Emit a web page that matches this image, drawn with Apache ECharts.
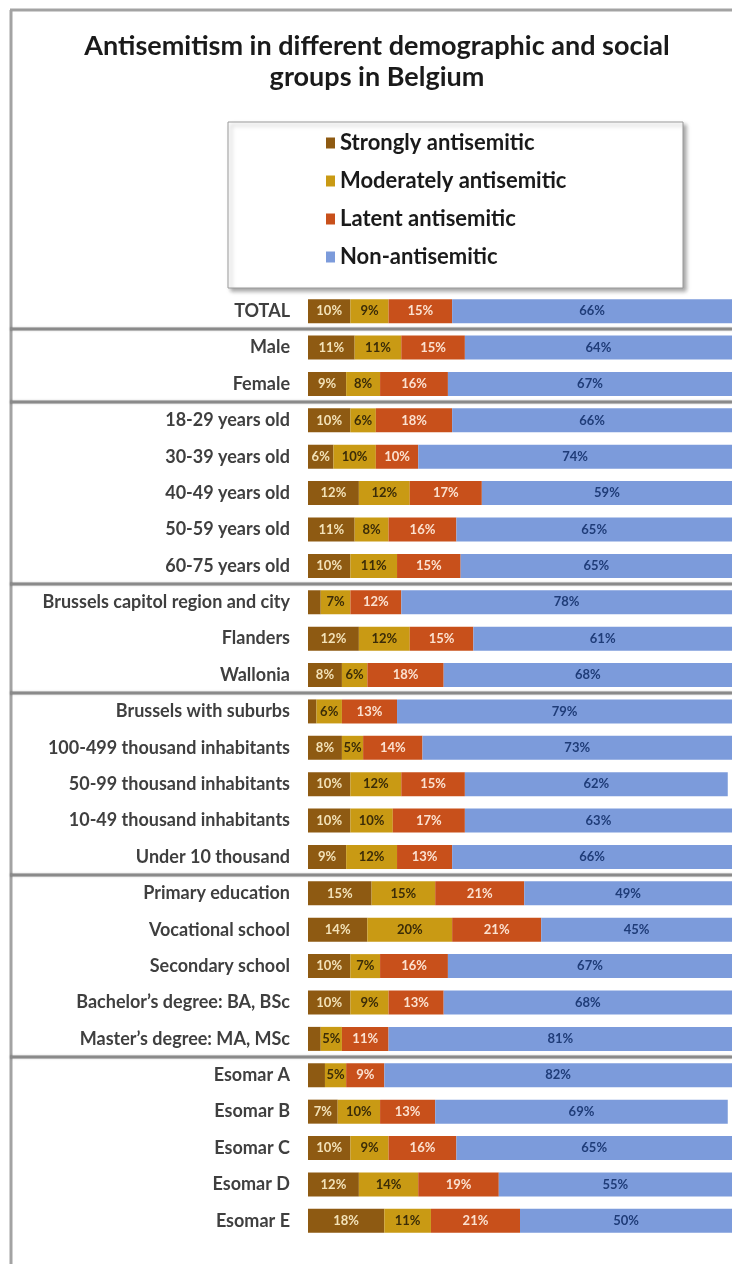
<!DOCTYPE html>
<html>
<head>
<meta charset="utf-8">
<script src="https://cdn.jsdelivr.net/npm/echarts@6/dist/echarts.min.js"></script>
<style>
  html, body { margin: 0; padding: 0; background: #fff; }
  #chart { width: 732px; height: 1264px; }
</style>
</head>
<body>
<div id="chart"></div>
<script>
var categories = [
  'TOTAL', 'Male', 'Female',
  '18-29 years old', '30-39 years old', '40-49 years old', '50-59 years old', '60-75 years old',
  'Brussels capitol region and city', 'Flanders', 'Wallonia',
  'Brussels with suburbs', '100-499 thousand inhabitants', '50-99 thousand inhabitants',
  '10-49 thousand inhabitants', 'Under 10 thousand',
  'Primary education', 'Vocational school', 'Secondary school',
  'Bachelor\u2019s degree: BA, BSc', 'Master\u2019s degree: MA, MSc',
  'Esomar A', 'Esomar B', 'Esomar C', 'Esomar D', 'Esomar E'
]
var strongly = [10, 11, 9, 10, 6, 12, 11, 10, 3, 12, 8, 2, 8, 10, 10, 9, 15, 14, 10, 10, 3, 4, 7, 10, 12, 18]
var moderately = [9, 11, 8, 6, 10, 12, 8, 11, 7, 12, 6, 6, 5, 12, 10, 12, 15, 20, 7, 9, 5, 5, 10, 9, 14, 11]
var latent = [15, 15, 16, 18, 10, 17, 16, 15, 12, 15, 18, 13, 14, 15, 17, 13, 21, 21, 16, 13, 11, 9, 13, 16, 19, 21]
var nonAnti = [66, 64, 67, 66, 74, 59, 65, 65, 78, 61, 68, 79, 73, 62, 63, 66, 49, 45, 67, 68, 81, 82, 69, 65, 55, 50]
// a separator line is drawn below these rows
var groupEnds = [0, 2, 7, 10, 15, 20]

var chart = echarts.init(document.getElementById('chart'))

function seg (name, data, color, labelColor) {
  return {
    name: name,
    type: 'bar',
    stack: 'all',
    data: data,
    barWidth: 24,
    itemStyle: { color: color },
    label: {
      show: true,
      position: 'inside',
      color: labelColor,
      fontFamily: 'Lato',
      fontWeight: 'bold',
      fontSize: 13,
      formatter: function (p) {
        return p.value < 5 ? '' : p.value + '%'
      }
    }
  }
}

var option = {
  animation: false,
  title: {
    text: 'Antisemitism in different demographic and social\ngroups in Belgium',
    left: 377,
    top: 31,
    padding: 0,
    textAlign: 'center',
    textStyle: {
      fontFamily: 'Lato',
      fontWeight: 'bold',
      fontSize: 27,
      lineHeight: 31,
      color: '#1a1a1a'
    }
  },
  legend: {
    orient: 'vertical',
    left: 326,
    top: 132,
    padding: 0,
    itemWidth: 9,
    itemHeight: 11,
    itemGap: 16,
    icon: 'rect',
    textStyle: {
      fontFamily: 'Lato',
      fontWeight: 'bold',
      fontSize: 22,
      lineHeight: 22,
      color: '#1a1a1a'
    },
    data: ['Strongly antisemitic', 'Moderately antisemitic', 'Latent antisemitic', 'Non-antisemitic']
  },
  grid: {
    left: 308,
    top: 293,
    width: 427,
    height: 946,
    containLabel: false
  },
  xAxis: {
    type: 'value',
    min: 0,
    max: 100,
    show: false
  },
  yAxis: {
    type: 'category',
    inverse: true,
    data: categories,
    axisLine: { show: false },
    axisTick: { show: false },
    axisLabel: {
      margin: 18,
      fontFamily: 'Lato',
      fontWeight: 'bold',
      fontSize: 18,
      color: '#3f3f3f'
    }
  },
  series: [
    seg('Strongly antisemitic', strongly, '#8e5a12', '#f3e2b8'),
    seg('Moderately antisemitic', moderately, '#c99a14', '#3b2c08'),
    seg('Latent antisemitic', latent, '#c8501b', '#fbe1d0'),
    seg('Non-antisemitic', nonAnti, '#7c9bdb', '#1f3c78')
  ]
}
chart.setOption(option)

// frame, legend box and group separators
var graphics = []
graphics.push({
  type: 'rect',
  z: -1,
  shape: { x: 228, y: 122, width: 455, height: 166 },
  style: {
    fill: '#fff',
    stroke: '#9a9a9a',
    lineWidth: 1,
    shadowBlur: 4,
    shadowOffsetX: 3,
    shadowOffsetY: 3,
    shadowColor: 'rgba(0,0,0,0.35)'
  }
})
graphics.push({
  type: 'line',
  shape: { x1: 10, y1: 10, x2: 732, y2: 10 },
  style: { stroke: '#a3a3a3', lineWidth: 3 }
})
graphics.push({
  type: 'line',
  shape: { x1: 11, y1: 10, x2: 11, y2: 1264 },
  style: { stroke: '#a3a3a3', lineWidth: 3 }
})
for (var i = 0; i < groupEnds.length; i++) {
  var k = groupEnds[i]
  var y1 = chart.convertToPixel({ yAxisIndex: 0 }, categories[k])
  var y2 = chart.convertToPixel({ yAxisIndex: 0 }, categories[k + 1])
  var y = Math.round((y1 + y2) / 2)
  graphics.push({
    type: 'line',
    shape: { x1: 10, y1: y, x2: 732, y2: y },
    style: { stroke: '#8a8a8a', lineWidth: 3, shadowBlur: 2, shadowColor: 'rgba(0,0,0,0.25)' }
  })
}
chart.setOption({ graphic: graphics })
</script>
</body>
</html>
